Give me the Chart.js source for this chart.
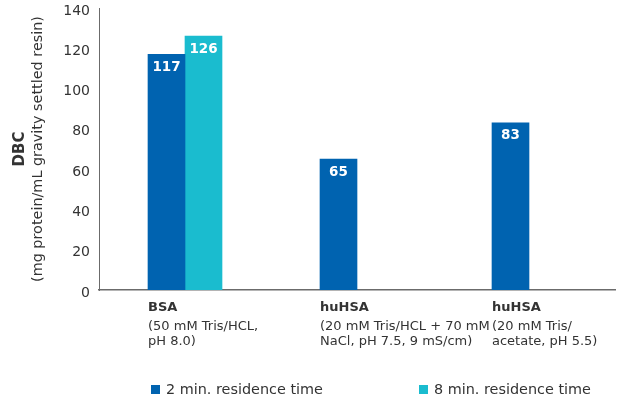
<!DOCTYPE html>
<html>
<head>
<meta charset="utf-8">
<script src="https://cdn.jsdelivr.net/npm/chart.js@4/dist/chart.umd.min.js"></script>
<style>
  html, body { margin: 0; padding: 0; background: #fff; }
  #wrap { width: 619px; height: 402px; }
</style>
</head>
<body>
<div id="wrap"><canvas id="dbcChart" width="619" height="402"></canvas></div>
<script>
"use strict";

// --- data ---
const proteins = ['BSA', 'huHSA', 'huHSA'];
const buffers = [
    ['(50 mM Tris/HCL,', 'pH 8.0)'],
    ['(20 mM Tris/HCL + 70 mM', 'NaCl, pH 7.5, 9 mS/cm)'],
    ['(20 mM Tris/', 'acetate, pH 5.5)']
];
const seriesNames = ['2 min. residence time', '8 min. residence time'];
const dbc2min = [117, 65, 83];
const dbc8min = [126, null, null];
const yTicks = [0, 20, 40, 60, 80, 100, 120, 140];

const BLUE = '#0063b0';
const CYAN = '#1abccf';
const TEXT = '#333333';
const FONT = '"DejaVu Sans", Verdana, sans-serif';

// white value inside the top of each bar
const barValues = {
    id: 'barValues',
    afterDatasetsDraw(chart) {
        const { ctx } = chart;
        ctx.save();
        ctx.font = `bold 13.5px ${FONT}`;
        ctx.fillStyle = '#ffffff';
        ctx.textAlign = 'center';
        ctx.textBaseline = 'middle';
        chart.data.datasets.forEach((ds, di) => {
            chart.getDatasetMeta(di).data.forEach((bar, i) => {
                const v = ds.data[i];
                if (v === null || v === undefined) return;
                ctx.fillText(String(v), bar.x, bar.y + 13);
            });
        });
        ctx.restore();
    }
};

// category labels under the axis, y title and legend
const decorations = {
    id: 'decorations',
    afterDraw(chart) {
        const { ctx, chartArea } = chart;
        ctx.save();

        // x labels: bold protein name + buffer lines, left aligned with first bar
        const meta = chart.getDatasetMeta(0);
        ctx.textAlign = 'left';
        ctx.textBaseline = 'middle';
        ctx.fillStyle = TEXT;
        meta.data.forEach((bar, i) => {
            const left = bar.x - bar.width / 2;
            ctx.font = `bold 13px ${FONT}`;
            ctx.fillText(proteins[i], left, chartArea.bottom + 18);
            ctx.font = `13px ${FONT}`;
            buffers[i].forEach((line, j) => {
                ctx.fillText(line, left, chartArea.bottom + 37 + j * 15);
            });
        });

        // y axis title (two lines, rotated)
        const midY = (chartArea.top + chartArea.bottom) / 2;
        ctx.save();
        ctx.translate(20, midY);
        ctx.rotate(-Math.PI / 2);
        ctx.textAlign = 'center';
        ctx.font = `bold 15px ${FONT}`;
        ctx.fillText('DBC', 0, 0);
        ctx.font = `14.4px ${FONT}`;
        ctx.fillText('(mg protein/mL gravity settled resin)', 0, 18);
        ctx.restore();

        // legend
        const legendX = [151, 419];
        ctx.font = `14.4px ${FONT}`;
        chart.data.datasets.forEach((ds, di) => {
            ctx.fillStyle = ds.backgroundColor;
            ctx.fillRect(legendX[di], 385, 9, 9);
            ctx.fillStyle = TEXT;
            ctx.fillText(ds.label, legendX[di] + 15, 390);
        });

        ctx.restore();
    }
};

new Chart(document.getElementById('dbcChart'), {
    type: 'bar',
    data: {
        labels: proteins,
        datasets: [
            { label: seriesNames[0], data: dbc2min, backgroundColor: BLUE, borderWidth: 0, barThickness: 37 },
            { label: seriesNames[1], data: dbc8min, backgroundColor: CYAN, borderWidth: 0, barThickness: 37 }
        ]
    },
    options: {
        responsive: false,
        animation: false,
        layout: { padding: { top: 0, right: 4, left: 0, bottom: 0 } },
        plugins: {
            legend: { display: false },
            tooltip: { enabled: false }
        },
        scales: {
            x: {
                grid: { display: false, drawTicks: false },
                border: { display: true, color: '#6b6b6b', width: 1.5 },
                ticks: { display: false },
                afterFit(scale) { scale.height = 112; }
            },
            y: {
                min: yTicks[0],
                max: yTicks[yTicks.length - 1],
                afterBuildTicks(scale) { scale.ticks = yTicks.map(v => ({ value: v })); },
                grid: { display: false, drawTicks: false },
                border: { display: true, color: '#6b6b6b', width: 1 },
                ticks: { padding: 9, labelOffset: 3, color: TEXT, font: { family: FONT, size: 14 } },
                afterFit(scale) {
                    scale.width = 99;
                    scale.paddingTop = 8;
                }
            }
        }
    },
    plugins: [barValues, decorations]
});
</script>
</body>
</html>
